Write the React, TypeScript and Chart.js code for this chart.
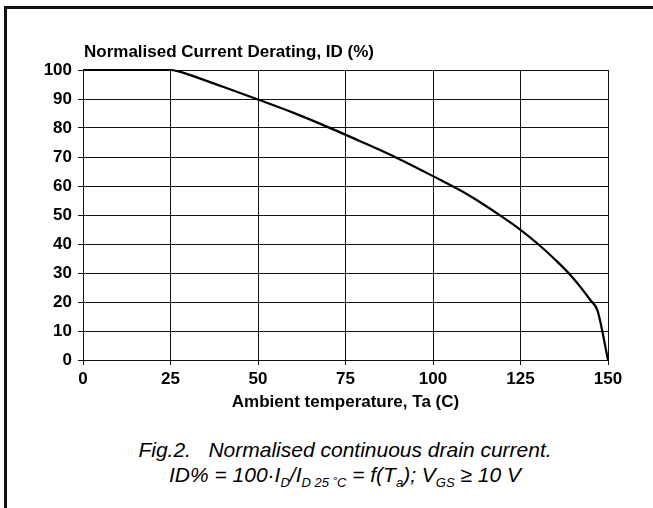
import React, { useEffect, useRef } from "react";
import { Chart, registerables } from "chart.js";

Chart.register(...registerables);

// Ambient temperature Ta (°C)
const temperatures = [0, 25, 27, 30, 40, 50, 60, 70, 80, 90, 100, 110, 120, 125, 130, 135, 140, 145, 147, 150];
// Normalised current derating ID (%)
const currentPct = [100, 100, 99.6, 98.5, 94.2, 89.8, 85.3, 80.3, 75, 69.5, 63.4, 57, 49.2, 44.9, 40, 34.5, 28.3, 20.6, 17, 0];

const xTicks = [0, 25, 50, 75, 100, 125, 150];
const yTicks = [0, 10, 20, 30, 40, 50, 60, 70, 80, 90, 100];

const chartTitle = "Normalised Current Derating, ID (%)";
const xTitle = "Ambient temperature, Ta (C)";

const FONT = "'Liberation Sans', Arial, Helvetica, sans-serif";

export default function App() {
  const ref = useRef<HTMLCanvasElement | null>(null);

  useEffect(() => {
    if (!ref.current) return;
    const titlePlugin = {
      id: "topLeftTitle",
      afterDraw(chart: any) {
        const ctx = chart.ctx;
        ctx.save();
        ctx.font = `bold 17px ${FONT}`;
        ctx.fillStyle = "#000";
        ctx.textBaseline = "middle";
        ctx.textAlign = "left";
        ctx.fillText(chartTitle, chart.chartArea.left + 1, 52);
        ctx.restore();
      },
    };
    const chart = new Chart(ref.current, {
      type: "line",
      data: {
        datasets: [
          {
            data: temperatures.map((t, i) => ({ x: t, y: currentPct[i] })),
            borderColor: "#000",
            borderWidth: 2.2,
            pointRadius: 0,
            cubicInterpolationMode: "monotone",
            fill: false,
            clip: 4,
          },
        ],
      },
      options: {
        animation: false,
        responsive: false,
        maintainAspectRatio: false,
        layout: { padding: { top: 70, right: 45, bottom: 3, left: 0 } },
        plugins: { legend: { display: false }, tooltip: { enabled: false }, title: { display: false } },
        scales: {
          x: {
            type: "linear",
            min: 0,
            max: 150,
            afterBuildTicks: (s: any) => {
              s.ticks = xTicks.map((v) => ({ value: v }));
            },
            afterFit: (s: any) => {
              s.height = 57;
            },
            grid: { color: "#111", lineWidth: 1, tickLength: 5 },
            border: { color: "#111", width: 1 },
            ticks: { color: "#000", padding: 4, font: { family: FONT, size: 17, weight: "bold" }, maxRotation: 0 },
            title: {
              display: true,
              text: xTitle,
              color: "#000",
              font: { family: FONT, size: 17, weight: "bold" },
              padding: { top: 4, bottom: 4 },
            },
          },
          y: {
            type: "linear",
            min: 0,
            max: 100,
            afterBuildTicks: (s: any) => {
              s.ticks = yTicks.map((v) => ({ value: v }));
            },
            afterFit: (s: any) => {
              s.width = 83;
            },
            grid: { color: "#111", lineWidth: 1, tickLength: 5 },
            border: { color: "#111", width: 1 },
            ticks: { color: "#000", padding: 6, font: { family: FONT, size: 17, weight: "bold" } },
          },
        },
      },
      plugins: [titlePlugin],
    });
    return () => chart.destroy();
  }, []);

  const sub: React.CSSProperties = { fontSize: "0.62em", position: "relative", top: "0.35em" };

  return (
    <div style={{ position: "fixed", left: 0, top: 0, width: 653, height: 508, background: "#fff", overflow: "hidden" }}>
      <div
        style={{
          position: "absolute",
          left: 4,
          top: 6,
          width: 800,
          height: 700,
          borderLeft: "3px solid #111",
          borderTop: "3px solid #111",
        }}
      />
      <canvas ref={ref} width={653} height={420} style={{ position: "absolute", left: 0, top: 0, width: 653, height: 420 }} />
      <div
        style={{
          position: "absolute",
          left: 0,
          top: 437,
          width: 690,
          textAlign: "center",
          fontFamily: FONT,
          fontStyle: "italic",
          fontSize: 21,
          lineHeight: "25px",
          color: "#000",
          whiteSpace: "pre",
        }}
      >
        <div>{"Fig.2.   Normalised continuous drain current."}</div>
        <div>
          ID% = 100·I<span style={sub}>D</span>/I<span style={sub}>D 25 ˚C</span> = f(T<span style={sub}>a</span>); V
          <span style={sub}>GS</span> ≥ 10 V
        </div>
      </div>
    </div>
  );
}
